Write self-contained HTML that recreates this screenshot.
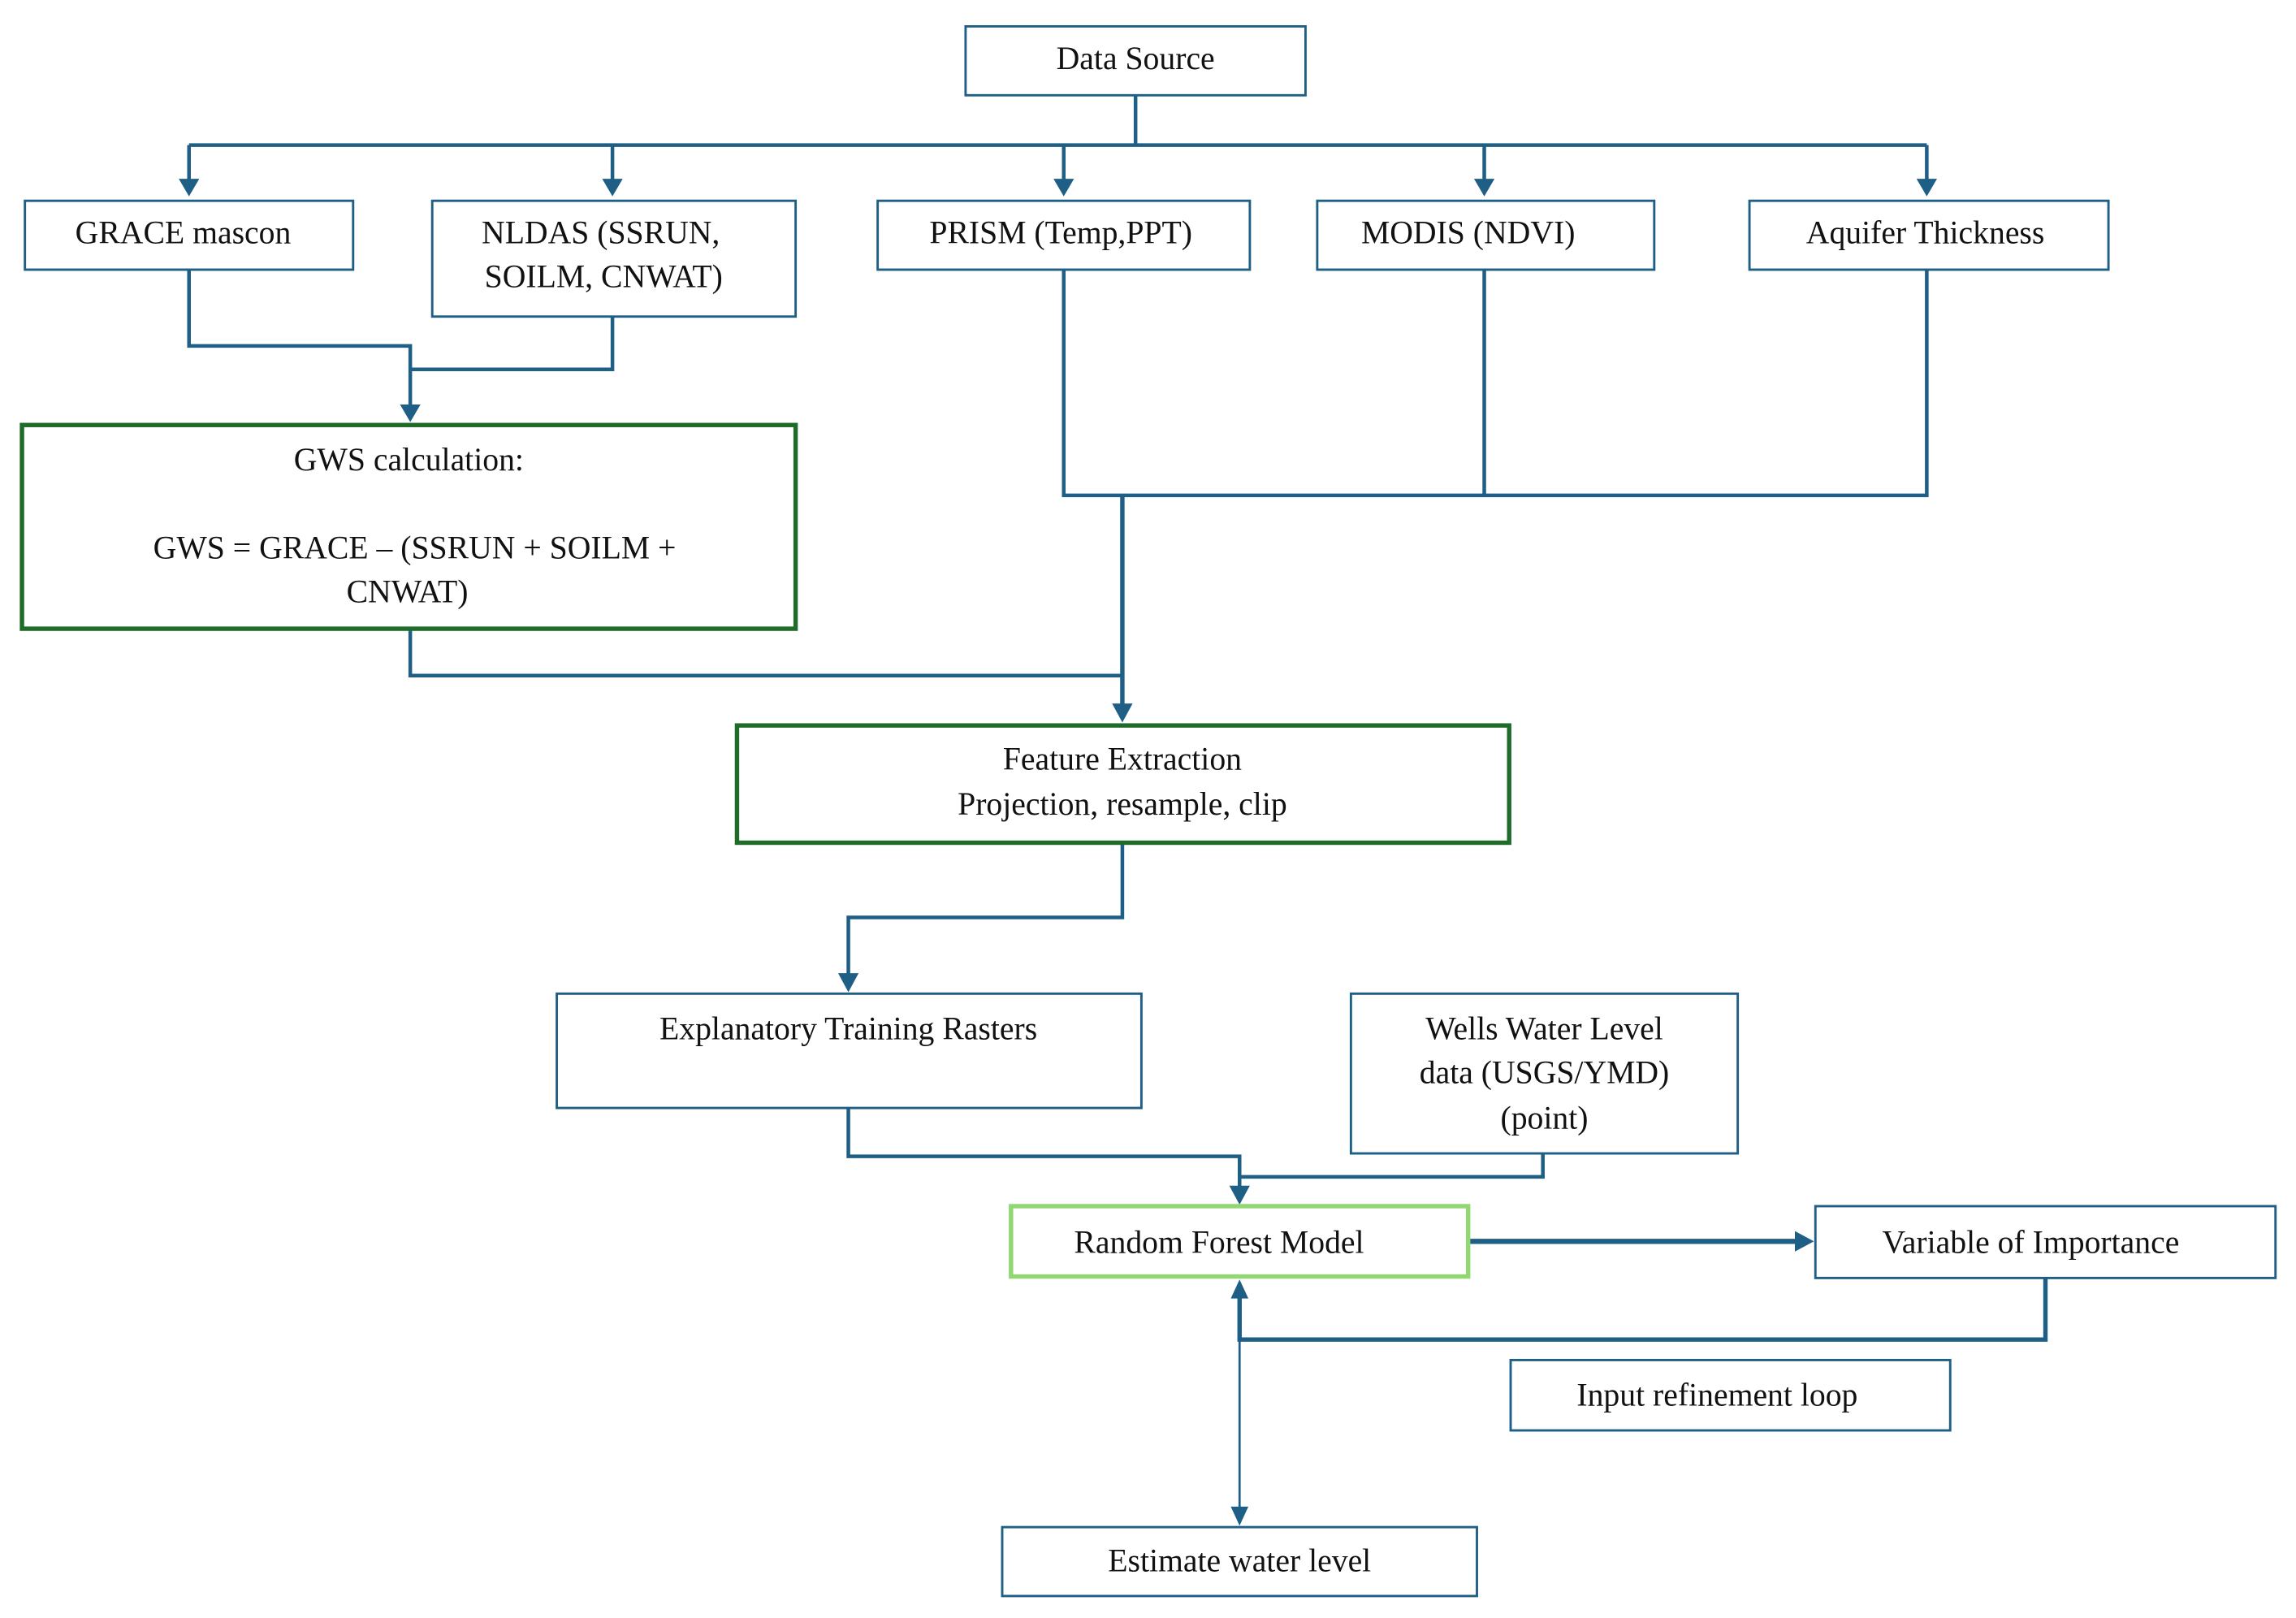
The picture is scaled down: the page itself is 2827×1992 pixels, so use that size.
<!DOCTYPE html>
<html><head><meta charset="utf-8"><style>html,body{margin:0;padding:0;background:#fff}svg{display:block}</style></head>
<body>
<svg width="2827" height="1992" viewBox="0 0 1567 1104" preserveAspectRatio="none" xmlns="http://www.w3.org/2000/svg">
<defs>
<marker id="a" viewBox="0 0 10 10" refX="9" refY="5" markerWidth="4" markerHeight="4" orient="auto" markerUnits="userSpaceOnUse"><path d="M0,0 L10,5 L0,10 z" fill="#1f5f86"/></marker>
</defs>
<g fill="none" stroke="#1f5f86" stroke-width="2.5">
<!-- top bus -->
<path d="M775 65 V99"/>
<path d="M129 99 H1315"/>
<g stroke-width="2.5">
<path d="M129 99 V123"/><path d="M418 99 V123"/><path d="M726 99 V123"/><path d="M1013 99 V123"/><path d="M1315 99 V123"/>
</g>
<path d="M129 184 V236 H280 V278"/>
<path d="M418 216 V252 H280"/>
<path d="M726 184 V338 H1315 V184"/>
<path d="M1013 184 V338"/>
<path d="M766 338 V482" stroke-width="3"/>
<path d="M280 429 V461 H766"/>
<path d="M766 575 V626 H579 V666"/>
<path d="M579 756 V789 H846 V811"/>
<path d="M1053 787 V803 H846"/>
<path d="M1002 847 H1227" stroke-width="3.5"/>
<path d="M1396 872 V914 H846 V885" stroke-width="3"/>
<path d="M846 885 V1030" stroke-width="1.5"/>
</g>
<g fill="#1f5f86">
<path d="M122 122 L136 122 L129 134 z"/>
<path d="M411 122 L425 122 L418 134 z"/>
<path d="M719 122 L733 122 L726 134 z"/>
<path d="M1006 122 L1020 122 L1013 134 z"/>
<path d="M1308 122 L1322 122 L1315 134 z"/>
<path d="M273 276 L287 276 L280 288 z"/>
<path d="M759 480 L773 480 L766 493 z"/>
<path d="M572 664 L586 664 L579 677 z"/>
<path d="M839 809 L853 809 L846 822 z"/>
<path d="M1225 840 L1225 854 L1238 847 z"/>
<path d="M840 886 L852 886 L846 873 z"/>
<path d="M840 1028 L852 1028 L846 1041 z"/>
</g>
<g fill="#fff" stroke="#1f5f86" stroke-width="1.6">
<rect x="659" y="18" width="232" height="47"/>
<rect x="17" y="137" width="224" height="47"/>
<rect x="295" y="137" width="248" height="79"/>
<rect x="599" y="137" width="254" height="47"/>
<rect x="899" y="137" width="230" height="47"/>
<rect x="1194" y="137" width="245" height="47"/>
<rect x="380" y="678" width="399" height="78"/>
<rect x="922" y="678" width="264" height="109"/>
<rect x="1239" y="823" width="314" height="49"/>
<rect x="1031" y="928" width="300" height="48"/>
<rect x="684" y="1042" width="324" height="47"/>
</g>
<g fill="#fff" stroke="#1e6b2a" stroke-width="3">
<rect x="15" y="290" width="528" height="139"/>
<rect x="503" y="495" width="527" height="80"/>
</g>
<rect x="690" y="823" width="312" height="48" fill="#fff" stroke="#92d872" stroke-width="3"/>
<g font-family="'Liberation Serif', serif" font-size="22" fill="#111" text-anchor="middle">
<text x="775" y="47">Data Source</text>
<text x="125" y="166" >GRACE mascon</text>
<text x="410" y="166">NLDAS (SSRUN,</text>
<text x="412" y="196">SOILM, CNWAT)</text>
<text x="724" y="166">PRISM (Temp,PPT)</text>
<text x="1002" y="166">MODIS (NDVI)</text>
<text x="1314" y="166">Aquifer Thickness</text>
<text x="279" y="321">GWS calculation:</text>
<text x="283" y="381">GWS = GRACE – (SSRUN + SOILM +</text>
<text x="278" y="411">CNWAT)</text>
<text x="766" y="525">Feature Extraction</text>
<text x="766" y="556">Projection, resample, clip</text>
<text x="579" y="709">Explanatory Training Rasters</text>
<text x="1054" y="709">Wells Water Level</text>
<text x="1054" y="739">data (USGS/YMD)</text>
<text x="1054" y="770">(point)</text>
<text x="832" y="855">Random Forest Model</text>
<text x="1386" y="855">Variable of Importance</text>
<text x="1172" y="959">Input refinement loop</text>
<text x="846" y="1072">Estimate water level</text>
</g>
</svg>
</body></html>
